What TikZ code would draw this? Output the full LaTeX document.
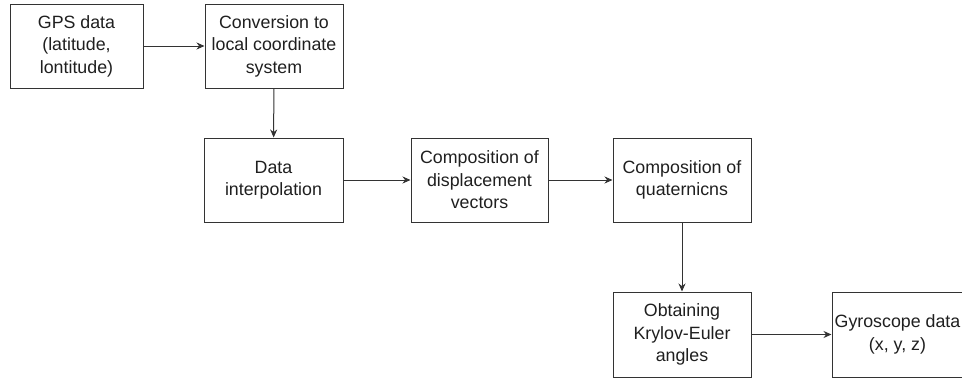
\documentclass[tikz,border=0pt]{standalone}
\usepackage{fontspec}
\setmainfont{Liberation Sans}
\usetikzlibrary{arrows.meta}
\begin{document}
\begin{tikzpicture}[x=1pt,y=-1pt,
  stepbox/.style={draw=black!80, line width=1pt, inner sep=0pt, align=center,
    text=black!88, font=\fontsize{17.8}{22.5}\selectfont},
  conn/.style={draw=black!80, line width=1pt, -{Stealth[length=8pt,width=7pt]}}]
\useasboundingbox (0,0) rectangle (962,380);
\clip (0,0) rectangle (962,380);
\node[stepbox, minimum width=133pt, minimum height=84pt] (gps) at (76.5,46) {GPS data\\(latitude,\\lontitude)};
\node[stepbox, minimum width=138pt, minimum height=84pt] (conv) at (274,46) {Conversion to\\local coordinate\\system};
\node[stepbox, minimum width=139pt, minimum height=84pt] (interp) at (273.5,180) {Data\\interpolation};
\node[stepbox, minimum width=137pt, minimum height=84pt] (disp) at (479.5,180) {Composition of\\displacement\\vectors};
\node[stepbox, minimum width=138pt, minimum height=84pt] (quat) at (682,180) {Composition of\\quaternicns};
\node[stepbox, minimum width=138pt, minimum height=85pt] (kryl) at (682,334.5) {Obtaining\\Krylov-Euler\\angles};
\node[stepbox, minimum width=131pt, minimum height=85pt] (gyro) at (897.5,334.5) {Gyroscope data\\(x, y, z)};
\draw[conn] (gps) -- (conv);
\draw[conn] (conv) -- (interp);
\draw[conn] (interp) -- (disp);
\draw[conn] (disp) -- (quat);
\draw[conn] (quat) -- (kryl);
\draw[conn] (kryl) -- (gyro);
\end{tikzpicture}
\end{document}
